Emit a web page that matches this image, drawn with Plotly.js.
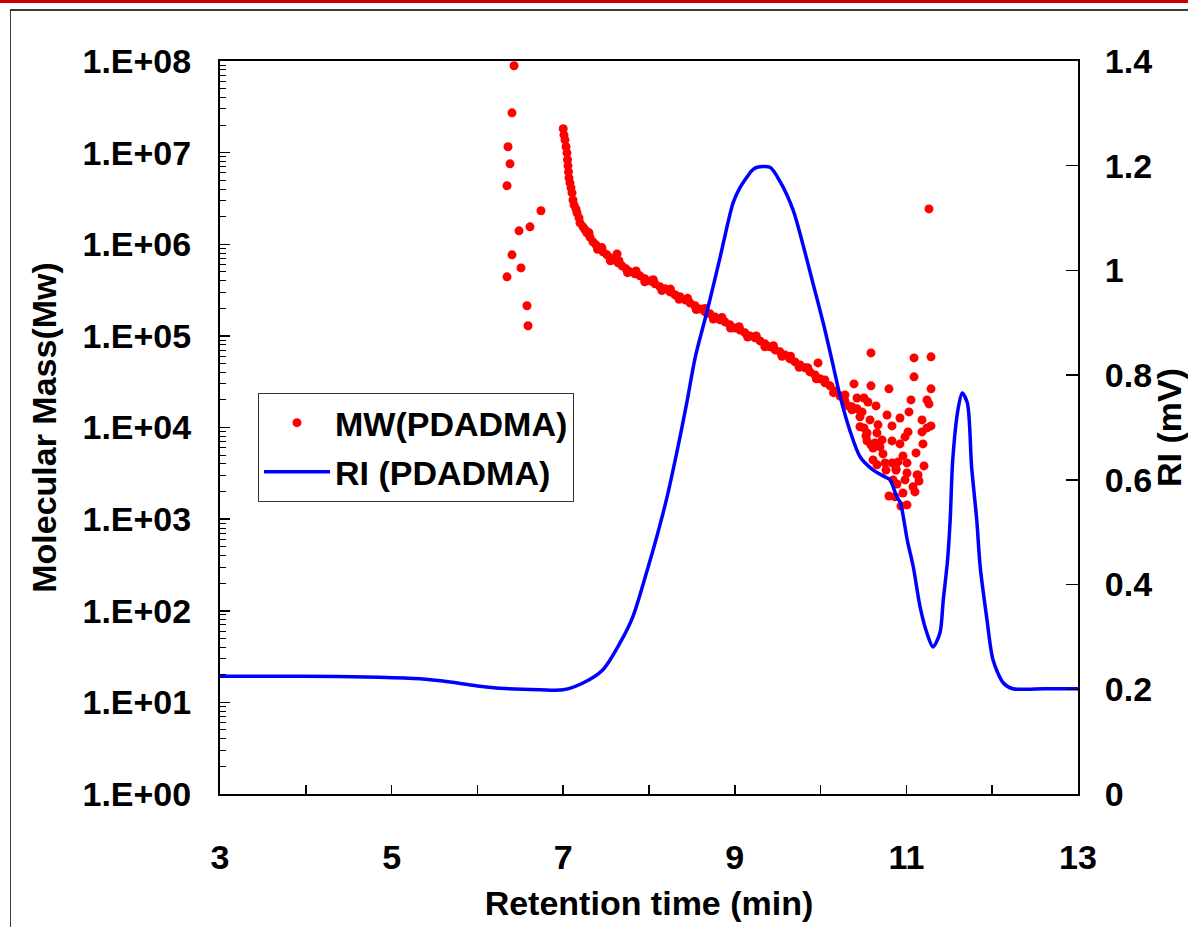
<!DOCTYPE html>
<html>
<head>
<meta charset="utf-8">
<script src="https://cdn.plot.ly/plotly-3.0.1.min.js"></script>
<style>
  html, body { margin: 0; padding: 0; background: #ffffff; }
  #wrap { position: relative; width: 1188px; height: 927px; overflow: hidden; }
  #chart { position: absolute; left: 0; top: 0; width: 1188px; height: 927px; }
  .redbar { position: absolute; left: 0; top: 0; width: 1188px; height: 3px; background: #cc0000; z-index: 5; }
  .frameTop { position: absolute; left: 10px; top: 9px; width: 1178px; height: 2px; background: #3a3a3a; z-index: 5; }
  .frameLeft { position: absolute; left: 10px; top: 9px; width: 1px; height: 918px; background: #3a3a3a; z-index: 5; }
</style>
</head>
<body>
<div id="wrap">
  <div id="chart"></div>
  <div class="redbar"></div>
  <div class="frameTop"></div>
  <div class="frameLeft"></div>
</div>
<script>
// ---- Data ----
// RI trace (right axis, mV)
const riTime  = [3.00, 3.93, 4.86, 5.33, 5.68, 6.03, 6.26, 6.73, 7.00, 7.23, 7.46, 7.66, 7.81, 7.98, 8.09, 8.21, 8.33, 8.44, 8.54, 8.68, 8.83, 8.98, 9.06, 9.14, 9.20, 9.26, 9.41, 9.53, 9.68, 9.79, 9.91, 10.03, 10.14, 10.23, 10.34, 10.46, 10.61, 10.77, 10.81, 10.89, 10.93, 11.01, 11.08, 11.16, 11.24, 11.31, 11.39, 11.43, 11.48, 11.51, 11.54, 11.60, 11.65, 11.71, 11.76, 11.82, 11.86, 11.94, 12.01, 12.13, 12.24, 12.40, 12.60, 13.00];
const riValue = [0.225, 0.225, 0.223, 0.220, 0.214, 0.206, 0.202, 0.199, 0.199, 0.212, 0.237, 0.288, 0.338, 0.428, 0.491, 0.567, 0.657, 0.747, 0.835, 0.924, 1.026, 1.129, 1.158, 1.178, 1.191, 1.197, 1.197, 1.169, 1.115, 1.052, 0.976, 0.900, 0.823, 0.758, 0.695, 0.644, 0.619, 0.604, 0.600, 0.567, 0.556, 0.485, 0.434, 0.357, 0.307, 0.281, 0.307, 0.371, 0.447, 0.523, 0.638, 0.733, 0.766, 0.747, 0.625, 0.523, 0.434, 0.332, 0.256, 0.212, 0.201, 0.200, 0.201, 0.201];

// MW points (left axis, log)
const mwTime = [
  // early scattered points
  6.427, 6.403, 6.357, 6.380, 6.345, 6.741, 6.613, 6.485, 6.403, 6.508, 6.345, 6.578, 6.590,
  // main band
  7.000, 7.009, 7.021, 7.033, 7.044, 7.050, 7.056, 7.062, 7.068, 7.079, 7.091, 7.103, 7.114, 7.126, 7.149, 7.161, 7.184, 7.196,
  7.231, 7.254, 7.277, 7.312, 7.347, 7.382, 7.417, 7.464, 7.510, 7.545, 7.592, 7.639, 7.685, 7.732, 7.779, 7.837, 7.895, 7.953,
  8.012, 8.070, 8.128, 8.186, 8.245, 8.303, 8.361, 8.420, 8.478, 8.536, 8.594, 8.653, 8.711, 8.769, 8.828, 8.886, 8.944,
  9.002, 9.061, 9.119, 9.177, 9.235, 9.294, 9.352, 9.410, 9.469, 9.527, 9.585, 9.643, 9.702, 9.760, 9.818, 9.876, 9.935, 9.993,
  10.051, 10.110, 10.168, 10.226, 10.284, 10.319, 10.366,
  // band spread (upper / lower edge points)
  7.30, 7.40, 7.45, 7.55, 7.65, 7.75, 7.85, 7.95, 8.05, 8.15, 8.25, 8.35, 8.45, 8.55, 8.65, 8.75, 8.85, 8.95,
  9.05, 9.15, 9.25, 9.35, 9.45, 9.55, 9.65, 9.75, 9.85, 9.95, 10.05, 10.15, 10.25,
  // stray points on the band
  7.627, 9.970,
  // late scatter cluster
  10.587, 11.089, 11.287, 11.089, 10.389, 10.587, 10.797, 11.287, 10.284, 10.424, 10.506, 10.552, 10.646, 11.054, 11.240, 11.263,
  10.366, 10.424, 10.459, 10.774, 10.925, 11.030, 11.182, 11.287, 11.240, 10.832, 10.459, 10.506, 10.541, 10.657, 11.019, 11.182,
  10.984, 10.541, 10.634, 10.716, 10.832, 10.925, 11.193, 10.611, 10.692, 10.727, 11.112, 10.611, 10.657, 10.751, 10.832, 10.902,
  10.960, 11.007, 11.205, 10.762, 10.879, 11.007, 11.135, 10.844, 10.984, 11.147, 10.890, 10.797, 10.960, 11.077, 11.100, 10.867,
  10.937, 11.007, 11.124, 10.879, 11.263, 10.483, 10.576, 10.529, 10.669, 10.587
];
const mwValue = [
  8.87e7, 2.72e7, 1.16e7, 7.55e6, 4.35e6, 2.32e6, 1.55e6, 1.40e6, 7.66e5, 5.52e5, 4.41e5, 2.13e5, 1.29e5,
  1.82e7, 1.56e7, 1.38e7, 1.16e7, 9.95e6, 8.35e6, 7.18e6, 6.17e6, 5.31e6, 4.68e6, 4.13e6, 3.64e6, 3.05e6, 2.69e6, 2.43e6, 2.20e6, 1.94e6, 1.71e6,
  1.55e6, 1.44e6, 1.33e6, 1.20e6, 1.06e6, 9.85e5, 9.14e5, 8.26e5, 7.66e5, 7.11e5, 6.76e5, 6.27e5, 5.81e5, 5.39e5, 5.00e5, 4.75e5, 4.52e5, 4.19e5,
  3.98e5, 3.70e5, 3.43e5, 3.26e5, 3.02e5, 2.81e5, 2.67e5, 2.47e5, 2.29e5, 2.13e5, 1.97e5, 1.83e5, 1.74e5, 1.61e5, 1.50e5, 1.42e5, 1.32e5,
  1.22e5, 1.16e5, 1.08e5, 1.00e5, 9.51e4, 8.81e4, 8.18e4, 7.59e4, 7.03e4, 6.69e4, 6.20e4, 5.61e4, 5.20e4, 4.82e4, 4.48e4, 4.04e4, 3.75e4, 3.40e4,
  3.07e4, 2.85e4, 2.51e4, 2.21e4, 1.95e4, 1.72e4, 1.56e4,
  1.34e6, 8.8e5, 9.2e5, 6.6e5, 6.6e5, 4.9e5, 5.1e5, 3.9e5, 4.1e5, 3.13e5, 3.24e5, 2.51e5, 2.57e5, 1.94e5, 1.99e5, 1.53e5, 1.59e5, 1.22e5,
  1.26e5, 9.7e4, 1.0e5, 7.6e4, 7.8e4, 6.0e4, 6.0e4, 4.55e4, 4.5e4, 3.4e4, 3.3e4, 2.4e4, 2.2e4,
  7.85e5, 5.07e4,
  6.52e4, 5.75e4, 5.90e4, 3.57e4, 2.99e4, 2.85e4, 2.64e4, 2.64e4, 2.27e4, 2.10e4, 2.10e4, 1.90e4, 1.72e4, 2.00e4, 2.00e4, 1.81e4,
  1.68e4, 1.60e4, 1.31e4, 1.37e4, 1.27e4, 1.48e4, 1.21e4, 1.04e4, 9.90e3, 1.04e4, 1.02e4, 9.90e3, 8.73e3, 8.73e3, 8.95e3, 8.95e3,
  7.89e3, 7.14e3, 6.79e3, 7.32e3, 7.14e3, 6.62e3, 6.62e3, 5.98e3, 6.14e3, 5.15e3, 5.28e3, 4.43e3, 3.91e3, 4.11e3, 4.11e3, 4.21e3,
  4.90e3, 4.11e3, 3.81e3, 3.44e3, 3.44e3, 3.19e3, 3.04e3, 2.68e3, 2.68e3, 2.61e3, 2.42e3, 1.79e3, 1.93e3, 2.25e3, 1.98e3, 1.75e3,
  1.39e3, 1.43e3, 3.04e3, 3.53e3, 2.43e6, 1.48e4, 1.21e4, 8.09e3, 1.07e4, 6.46e3
];

// Axis tick labels
const xTickVals = [3, 4, 5, 6, 7, 8, 9, 10, 11, 12, 13];
const xTickText = ['3', '', '5', '', '7', '', '9', '', '11', '', '13'];
const yTickVals = [1, 10, 100, 1000, 1e4, 1e5, 1e6, 1e7, 1e8];
const yTickText = ['1.E+00', '1.E+01', '1.E+02', '1.E+03', '1.E+04', '1.E+05', '1.E+06', '1.E+07', '1.E+08'];
const yMinorDigits = [2, 3, 4, 5, 6, 7, 8, 9];

// minor log tick positions (2..9 within each decade)
const yMinorVals = [];
for (let d = 0; d < 8; d++) {
  for (const m of yMinorDigits) yMinorVals.push(m * Math.pow(10, d));
}

const FONT = 'Liberation Sans, Arial, Helvetica, sans-serif';
const bold = (size) => ({ family: FONT, size: size, color: '#000000', weight: 'bold' });

const traces = [
  {
    x: mwTime, y: mwValue, type: 'scatter', mode: 'markers', name: 'MW(PDADMA)',
    marker: { color: '#ff0000', size: 9 }, xaxis: 'x', yaxis: 'y', legendgroup: 'a'
  },
  {
    x: riTime, y: riValue, type: 'scatter', mode: 'lines', name: 'RI (PDADMA)',
    line: { color: '#0000ff', width: 3.5, shape: 'spline', smoothing: 0.8 }, xaxis: 'x', yaxis: 'y2', legendgroup: 'b'
  },
  { x: [], y: [], type: 'scatter', mode: 'markers', xaxis: 'x', yaxis: 'y3', showlegend: false, hoverinfo: 'skip' }
];

const layout = {
  width: 1188, height: 927,
  margin: { l: 220, r: 110, t: 61, b: 133, pad: 0 },
  paper_bgcolor: '#ffffff', plot_bgcolor: '#ffffff',
  font: bold(34),
  showlegend: true,
  legend: {
    x: 0.0443, y: 0.547, xanchor: 'left', yanchor: 'top',
    bgcolor: '#ffffff', bordercolor: '#333333', borderwidth: 1,
    font: bold(34), tracegroupgap: 2, itemwidth: 66
  },
  xaxis: {
    range: [3, 13], tickmode: 'array', tickvals: xTickVals, ticktext: xTickText,
    ticks: 'inside', ticklen: 9, tickwidth: 1.5, tickcolor: '#000',
    showline: true, linecolor: '#000', linewidth: 2, mirror: true,
    showgrid: false, zeroline: false, tickfont: bold(34), ticklabelstandoff: 32,
    title: { text: 'Retention time (min)', font: bold(34), standoff: 16 }
  },
  yaxis: {
    type: 'log', range: [0, 8], tickmode: 'array', tickvals: yTickVals, ticktext: yTickText,
    ticks: 'inside', ticklen: 10, tickwidth: 1.5, tickcolor: '#000',
    showline: true, linecolor: '#000', linewidth: 2,
    showgrid: false, zeroline: false, tickfont: bold(34), ticklabelstandoff: 20,
    title: { text: 'Molecular Mass(Mw)', font: bold(34), standoff: 16 }
  },
  yaxis3: {
    type: 'log', range: [0, 8], overlaying: 'y', side: 'left', anchor: 'x',
    tickmode: 'array', tickvals: yMinorVals, showticklabels: false,
    ticks: 'inside', ticklen: 6, tickwidth: 1, tickcolor: '#000',
    showline: false, showgrid: false, zeroline: false
  },
  yaxis2: {
    overlaying: 'y', side: 'right', range: [0, 1.4], dtick: 0.2, tick0: 0,
    ticks: 'inside', ticklen: 12, tickwidth: 1.5, tickcolor: '#000',
    showline: true, linecolor: '#000', linewidth: 2,
    showgrid: false, zeroline: false, tickfont: bold(34), ticklabelstandoff: 18,
    title: { text: 'RI (mV)', font: bold(34), standoff: 6 }
  }
};

Plotly.newPlot('chart', traces, layout, { staticPlot: true, displayModeBar: false });
</script>
</body>
</html>
